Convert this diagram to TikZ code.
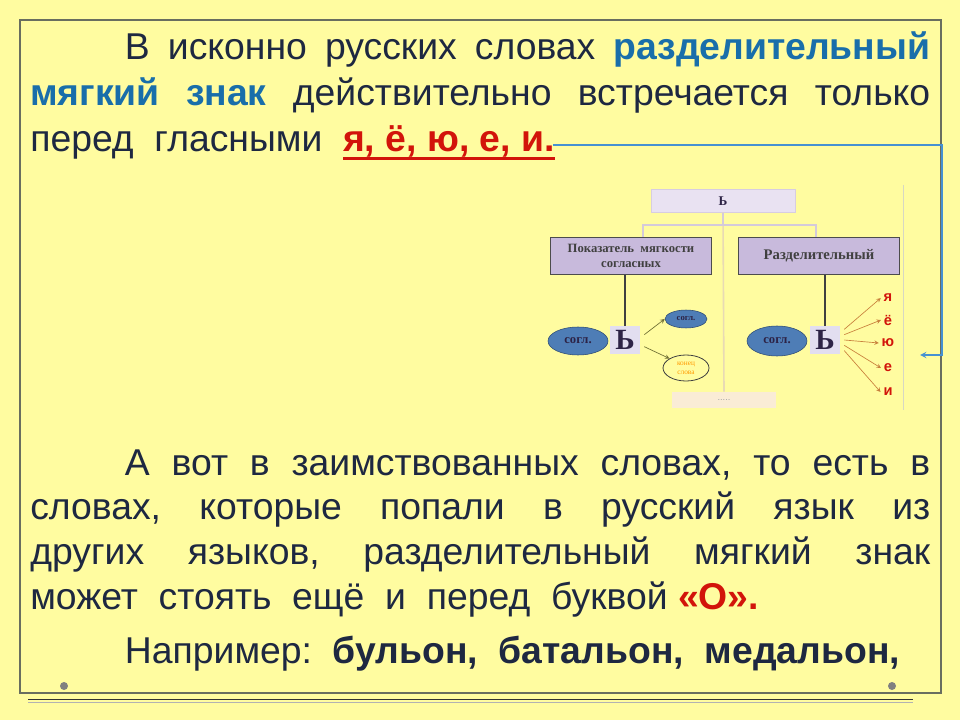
\documentclass[tikz,border=0pt]{standalone}
\usepackage{fontspec}
\setmainfont{Liberation Sans}
\newfontfamily\schemefont{Liberation Serif}
\usetikzlibrary{shapes.geometric}

\definecolor{slidebg}{RGB}{255,252,160}
\definecolor{framegray}{RGB}{105,110,95}
\definecolor{inktext}{RGB}{30,40,65}
\definecolor{inkblue}{RGB}{25,110,170}
\definecolor{inkred}{RGB}{210,20,10}
\definecolor{linkblue}{RGB}{70,145,210}
\definecolor{boxlilac}{RGB}{200,186,220}
\definecolor{boxpale}{RGB}{233,226,242}
\definecolor{rootedge}{RGB}{215,205,225}
\definecolor{signpale}{RGB}{226,222,240}
\definecolor{signink}{RGB}{45,35,70}
\definecolor{ovalblue}{RGB}{78,125,182}
\definecolor{ovaldark}{RGB}{45,75,115}
\definecolor{dotsbox}{RGB}{250,236,214}
\definecolor{vowelarrow}{RGB}{200,128,60}
\definecolor{olivearrow}{RGB}{110,110,50}
\definecolor{treeline}{RGB}{212,202,218}
\definecolor{midline}{RGB}{232,218,180}
\definecolor{edgeline}{RGB}{215,215,195}

\newcommand\redunder[1]{\leavevmode\setbox0\hbox{#1}\rlap{\color{inkred}\rule[-6pt]{\wd0}{2.4pt}}\box0}

\begin{document}
\frenchspacing
\begin{tikzpicture}[
     x = 0.75pt, y = -0.75pt,
     para/.style = {text width = 675pt, inner sep = 0pt, text = inktext, align = justify,
       font = \fontsize{28}{34.5}\selectfont},
     rootbox/.style = {draw = rootedge, fill = boxpale, minimum width = 108pt,
       minimum height = 17pt, inner sep = 0pt, text = signink,
       font = \schemefont\bfseries\fontsize{10}{12}\selectfont},
     catbox/.style = {draw = black!70, line width = 1.1pt, fill = boxlilac,
       minimum width = 121pt, minimum height = 28pt, inner sep = 0pt,
       align = center, text = black!75},
     signbox/.style = {fill = signpale, minimum width = 22.5pt, minimum height = 21pt,
       inner sep = 0pt, text = signink,
       font = \schemefont\bfseries\fontsize{22}{22}\selectfont},
     consonant/.style = {ellipse, draw = ovaldark, fill = ovalblue, inner sep = 0pt,
       text = signink, font = \schemefont\bfseries\fontsize{9.5}{10}\selectfont},
     vowel/.style = {text = inkred, inner sep = 0pt,
       font = \bfseries\fontsize{11}{12}\selectfont},
     ->, >=stealth
    ]

    % slide and its frame
    \fill [slidebg] (0,0) rectangle (960,720);
    \useasboundingbox (0,0) rectangle (960,720);
    \draw [-, framegray, line width = 0.8pt] (20,20) rectangle (941,693);
    \draw [-, black!80, line width = 0.8pt] (28,699.5) -- (913,699.5);
    \draw [-, black!30, line width = 0.6pt] (28,702) -- (913,702);
    \fill [gray] (64,686) circle (3pt) (892,686) circle (3pt);

    % texts
    \node [para, anchor = base west] (Native) at (30,60)
     {\hspace*{71pt}В исконно русских словах {\bfseries\color{inkblue}разделительный}\linebreak
      {\bfseries\color{inkblue}мягкий знак} действительно встречается только\linebreak
      перед\ \ гласными\ \ {\bfseries\color{inkred}\redunder{я, ё, ю, е, и.}}};
    \node [para, anchor = base west, font = \fontsize{28}{33.5}\selectfont] (Borrowed) at (30,475)
     {\hspace*{71pt}А вот в заимствованных словах, то есть в\linebreak
      словах, которые попали в русский язык из\linebreak
      других языков, разделительный мягкий знак\linebreak
      может\ \ стоять\ \ ещё\ \ и\ \ перед\ \ буквой {\bfseries\color{inkred}«О».}};
    \node [para, anchor = base west] (Examples) at (30,663)
     {\hspace*{71pt}Например:\ \ {\bfseries бульон,\ \ батальон,\ \ медальон,}};

    % scheme
    \draw [-, edgeline, line width = 0.6pt] (903,185) -- (903,410);
    \node [rootbox] (Sign) at (723,201) {Ь};
    \node [catbox, font = \schemefont\bfseries\fontsize{9.5}{11}\selectfont]
      (Softness) at (631,256) {Показатель\ \ мягкости\\согласных};
    \node [catbox, font = \schemefont\bfseries\fontsize{11}{13}\selectfont]
      (Separating) at (819,256) {Разделительный};
    \node [fill = dotsbox, minimum width = 78pt, minimum height = 12pt, inner sep = 0pt,
      text = black!35, font = \fontsize{7}{8}\selectfont] (More) at (724,400) {.....};
    \coordinate (Fork) at (723,225);
    \draw [-, midline, line width = 1.2pt] (Sign.south) -- (More.north);
    \draw [-, treeline, line width = 1.5pt] (Sign.south) -- (Fork);
    \draw [-, treeline, line width = 1.5pt] ([xshift = 9pt]Softness.north) |- (Fork)
      -| ([xshift = -2pt]Separating.north);

    \node [signbox] (LSign) at (625,340) {Ь};
    \node [consonant, minimum width = 45pt, minimum height = 21pt] (LCons) at (578,341) {согл.};
    \node [consonant, minimum width = 31.5pt, minimum height = 13.5pt,
      font = \schemefont\bfseries\fontsize{6.5}{7}\selectfont] (LNext) at (686,319) {согл.};
    \node [ellipse, draw = black!75, line width = 0.6pt, minimum width = 34.5pt,
      minimum height = 19.5pt, inner sep = 0pt, align = center, text = orange!80!yellow,
      font = \schemefont\fontsize{5.5}{7}\selectfont] (LEnd) at (686,368) {конец\\слова};
    \draw [-, black!75, line width = 1.1pt] (LSign.north |- Softness.south) -- (LSign.north);
    \draw [olivearrow, line width = 0.5pt] ([xshift = 3pt, yshift = 4pt]LSign.east) -- (LNext.west);
    \draw [olivearrow, line width = 0.5pt] ([xshift = 3pt, yshift = -5pt]LSign.east) -- (LEnd.north west);

    \node [signbox] (RSign) at (825,340) {Ь};
    \node [consonant, minimum width = 45pt, minimum height = 22.5pt] (RCons) at (777,341) {согл.};
    \draw [-, black!75, line width = 1.1pt] (RSign.north |- Separating.south) -- (RSign.north);
    \foreach \name/\letter/\y/\dy in {Ya/я/298/8, Yo/ё/320/4, Yu/ю/343/0, Ye/е/368/-4, I/и/392/-8} {
      \node [vowel] (\name) at (888,\y) {\letter};
      \draw [vowelarrow, line width = 0.5pt] ([xshift = 3pt, yshift = \dy pt]RSign.east) -- ([xshift = -2pt]\name.west);
    }

    % link from the vowels in the text to the scheme
    \coordinate (VowelsEnd) at (553,145);
    \coordinate (SchemeVowels) at (920,355);
    \draw [linkblue, line width = 1.1pt] (VowelsEnd) -- (942,145) |- (SchemeVowels);

\end{tikzpicture}
\end{document}
